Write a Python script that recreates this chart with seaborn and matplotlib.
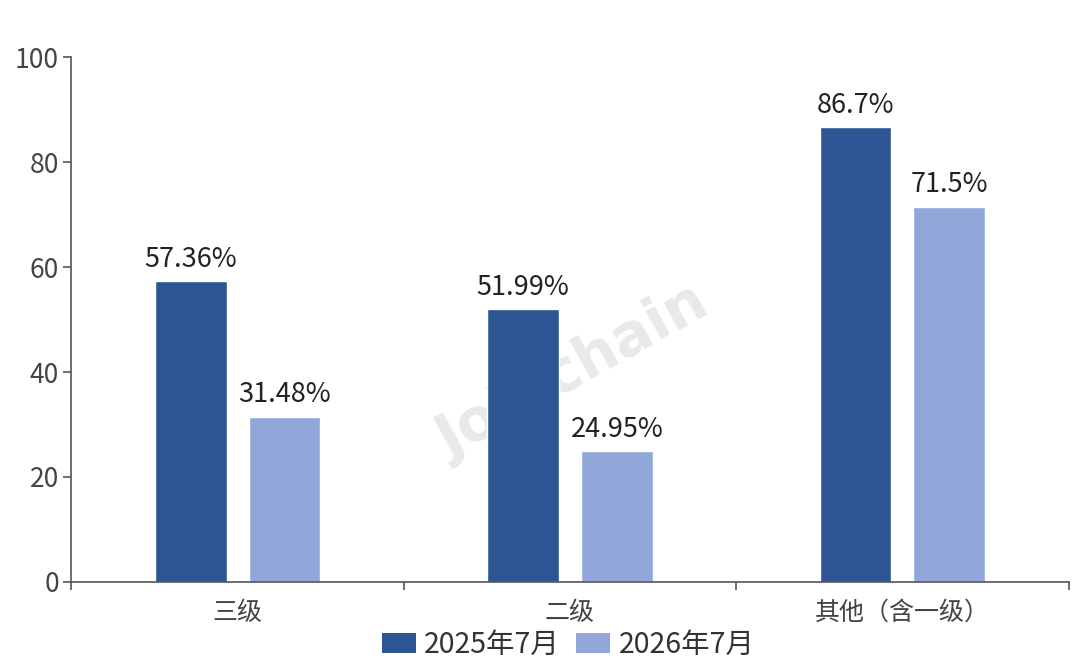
import matplotlib
matplotlib.use("Agg")
import matplotlib.pyplot as plt
import pandas as pd
import seaborn as sns
from matplotlib.patches import FancyBboxPatch

# data
categories = ["三级", "二级", "其他（含一级）"]
series = ["2025年7月", "2026年7月"]
values_2025 = [57.36, 51.99, 86.7]
values_2026 = [31.48, 24.95, 71.5]
labels_2025 = ["57.36%", "51.99%", "86.7%"]
labels_2026 = ["31.48%", "24.95%", "71.5%"]
colors = ["#2E5593", "#91A7DA"]

df = pd.DataFrame({
    "category": categories * 2,
    "series": [series[0]] * 3 + [series[1]] * 3,
    "value": values_2025 + values_2026,
})

sns.set_theme(style="white")
plt.rcParams["font.family"] = ["Noto Sans CJK SC", "DejaVu Sans"]

fig = plt.figure(figsize=(10.8, 6.65), dpi=100)
ax = fig.add_axes([0.0662, 0.125, 0.9232, 0.789])

sns.barplot(data=df, x="category", y="value", hue="series", order=categories,
            hue_order=series, palette=colors, width=0.564, gap=0.234,
            saturation=1, ax=ax, legend=False, zorder=2)

for cont, labs in zip(ax.containers, [labels_2025, labels_2026]):
    ax.bar_label(cont, labels=labs, padding=6, fontsize=19.5, color="#222222")

# watermark
ax.text(0.503, 0.40, "Joinchain", transform=ax.transAxes, rotation=29,
        fontsize=42, fontweight="bold", color="#E9E9E9", ha="center",
        va="center", zorder=1, family="DejaVu Sans")

ax.set_xlim(-0.5, 2.5)
ax.set_ylim(0, 100)
ax.set_yticks([0, 20, 40, 60, 80, 100])
ax.set_xlabel("")
ax.set_ylabel("")

for s in ["top", "right"]:
    ax.spines[s].set_visible(False)
for s in ["left", "bottom"]:
    ax.spines[s].set_color("#555555")
    ax.spines[s].set_linewidth(1.2)

ax.tick_params(axis="y", left=True, length=6, width=1.2, color="#555555",
               labelsize=19, labelcolor="#444444", pad=3)
ax.tick_params(axis="x", which="major", bottom=False, labelsize=18,
               labelcolor="#444444", pad=7)
ax.set_xticks([-0.5, 0.5, 1.5, 2.5], minor=True)
ax.tick_params(axis="x", which="minor", bottom=True, length=6, width=1.2,
               color="#555555")

# legend with rounded patches
handles = [FancyBboxPatch((0, 0), 1, 1, boxstyle="round,pad=0,rounding_size=0.3",
                          facecolor=c, edgecolor="none") for c in colors]
fig.legend(handles, series, loc="center", bbox_to_anchor=(0.526, 0.03),
           ncol=2, frameon=False, fontsize=20.5, handlelength=1.2,
           handleheight=0.7, handletextpad=0.3, columnspacing=0.55,
           labelcolor="#333333")

fig.savefig("out.png", dpi=100)
